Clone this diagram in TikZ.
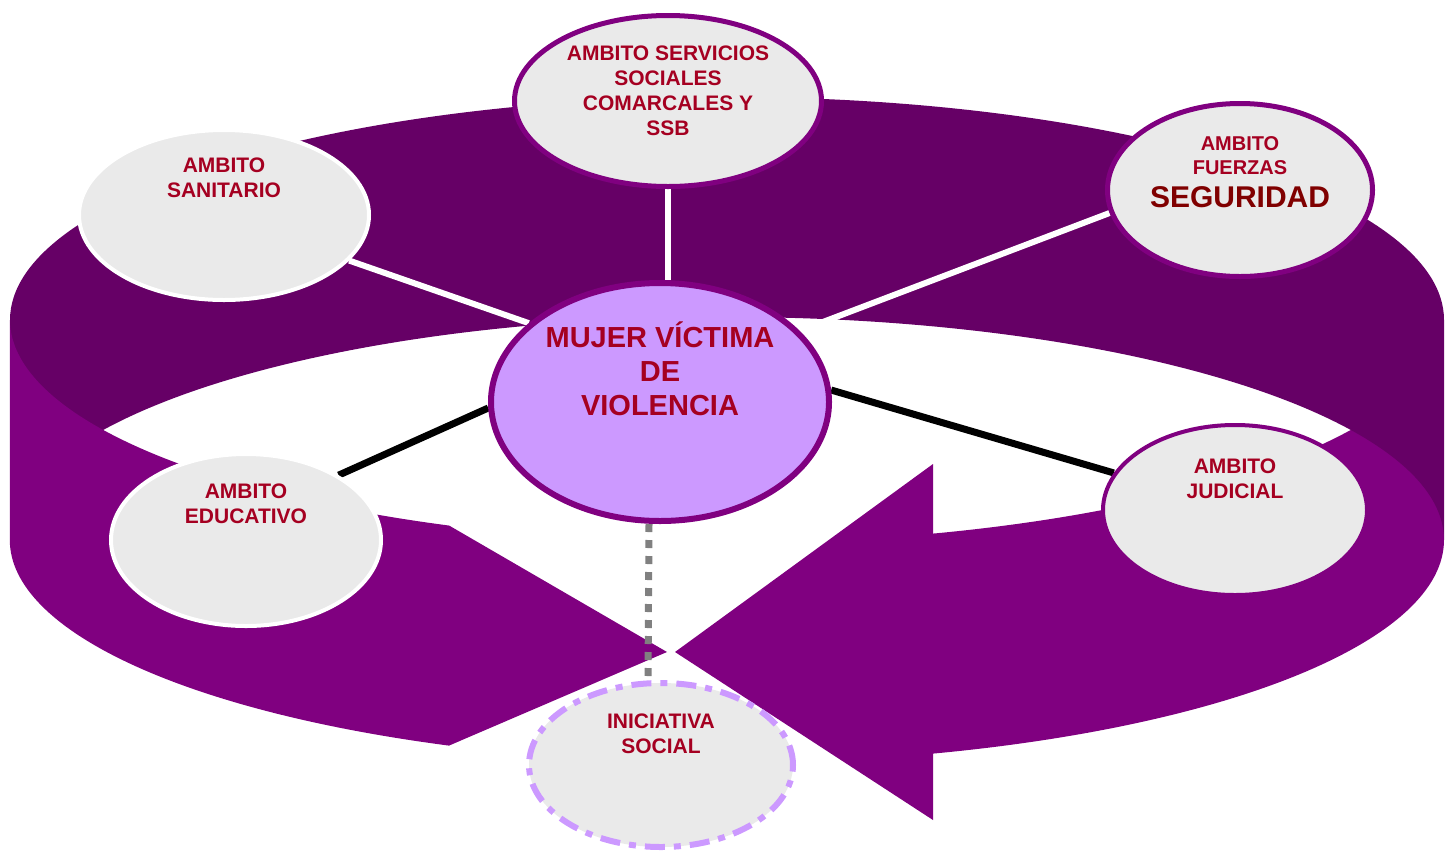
\documentclass[tikz,border=0pt]{standalone}
\usepackage{fontspec}
\setmainfont{Liberation Sans}
\usetikzlibrary{positioning,shapes.geometric}

\definecolor{ringback}{HTML}{660066}
\definecolor{ringfront}{HTML}{800080}
\definecolor{ambfill}{HTML}{EAEAEA}
\definecolor{lila}{HTML}{CC99FF}
\definecolor{txtred}{HTML}{A50021}
\definecolor{segred}{HTML}{800000}

\pgfdeclarelayer{ringlayer}
\pgfdeclarelayer{linklayer}
\pgfsetlayers{ringlayer,linklayer,main}

\begin{document}
\begin{tikzpicture}[x=1pt,y=-1pt,
    ambito/.style={ellipse,fill=ambfill,inner sep=0pt,line width=5pt},
    lbl/.style={font=\bfseries\fontsize{21}{25}\selectfont,text=txtred,align=center,inner sep=0pt},
    link/.style={line width=6pt},
    ring/.style={x radius=717,y radius=223}]
  \useasboundingbox (0,0) rectangle (1445,852);

  % ambitos
  \node[ambito,draw=ringfront,minimum width=307pt,minimum height=171pt] (ssb) at (668,101) {};
  \node[ambito,draw=white,line width=4pt,minimum width=290pt,minimum height=170pt] (san) at (224,215) {};
  \node[ambito,draw=ringfront,minimum width=265pt,minimum height=173pt] (fue) at (1240,190) {};
  \node[ambito,draw=ringfront,line width=4pt,minimum width=264pt,minimum height=170pt] (jud) at (1235,510) {};
  \node[ambito,draw=white,line width=4pt,minimum width=270pt,minimum height=172pt] (edu) at (246,540) {};
  \node[ellipse,fill=lila,draw=ringfront,line width=6pt,inner sep=0pt,
        minimum width=338pt,minimum height=238pt] (ctr) at (660,402) {};
  \node[ambito,draw=lila,line width=6pt,dash pattern=on 20pt off 9pt on 7pt off 9pt,
        minimum width=264pt,minimum height=164pt] (ini) at (661,765) {};

  % texts
  \node[lbl,below=33pt of ssb.north] (ssb-t) {AMBITO SERVICIOS\\SOCIALES\\COMARCALES Y\\SSB};
  \node[lbl,below=30pt of san.north] (san-t) {AMBITO\\SANITARIO};
  \node[lbl,font=\bfseries\fontsize{20}{24}\selectfont,below=35pt of fue.north] (fue-t)
    {AMBITO\\FUERZAS\\[9pt]{\fontsize{30}{30}\selectfont\color{segred}SEGURIDAD}};
  \node[lbl,below=36pt of jud.north] (jud-t) {AMBITO\\JUDICIAL};
  \node[lbl,below=32pt of edu.north] (edu-t) {AMBITO\\EDUCATIVO};
  \node[lbl,below=34pt of ini.north] (ini-t) {INICIATIVA\\SOCIAL};
  \node[lbl,font=\bfseries\fontsize{29}{34}\selectfont,below=42pt of ctr.north] (ctr-t)
    {MUJER VÍCTIMA\\DE\\VIOLENCIA};

  % links
  \begin{pgfonlayer}{linklayer}
    \draw[link,white] (ssb.south) -- (ssb.south |- ctr.north);
    \draw[link,white] (san.340) -- (ctr.149);
    \draw[link,white] (fue.190) -- (ctr.27);
    \draw[link,line width=7pt] (edu.35) -- (ctr.182);
    \draw[link,line width=7pt] (jud.163) -- (ctr.4);
    \draw[line width=7pt,gray,dash pattern=on 8pt off 8pt]
      ([xshift=-11pt]ctr.south) -- ([xshift=-12pt]ctr.south |- ini.north);
  \end{pgfonlayer}

  % ring: front arrow with head, back wall, front arrow on the left
  \begin{pgfonlayer}{ringlayer}
    \fill[ringfront] (675,652) -- (933,464) -- (933,533.6)
      arc[ring,start angle=73.3,end angle=0] -- ++(0,220)
      arc[ring,start angle=0,end angle=73.3] -- (933,820) -- cycle;
    \fill[ringback] (10,320) arc[ring,start angle=180,end angle=360] -- ++(0,220)
      arc[ring,start angle=360,end angle=180] -- cycle;
    \fill[ringfront] (10,320) arc[ring,start angle=180,end angle=112.8]
      -- (667,652) -- (449,745.6)
      arc[ring,start angle=112.8,end angle=180] -- cycle;
  \end{pgfonlayer}
\end{tikzpicture}
\end{document}
